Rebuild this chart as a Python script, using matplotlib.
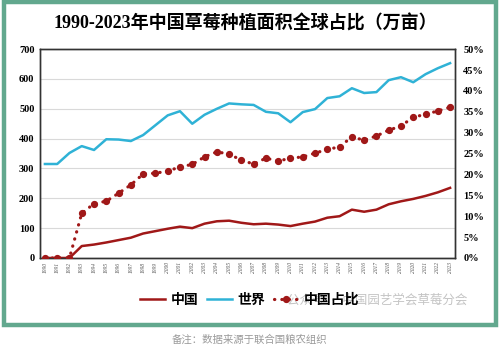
# 1990-2023 China strawberry planting area and its global share
import matplotlib.pyplot as plt
from matplotlib.patches import Rectangle
from matplotlib.lines import Line2D
from matplotlib.ticker import FuncFormatter

plt.rcParams['font.family'] = ['Liberation Serif', 'Noto Sans CJK SC', 'DejaVu Sans']

years = list(range(1990, 2024))
china = [0, 0, 0, 40, 45, 52, 60, 68, 82, 90, 98, 105, 100, 115, 123, 125, 118,
         113, 115, 112, 107, 115, 122, 135, 140, 162, 155, 162, 180, 190, 198,
         208, 220, 235]
world = [315, 315, 352, 375, 362, 398, 397, 392, 412, 445, 478, 492, 450, 480,
         500, 518, 515, 513, 490, 485, 455, 489, 499, 536, 542, 569, 553, 556,
         596, 606, 589, 616, 636, 653]
share = [0, 0, 0, 10.7, 13.0, 13.6, 15.5, 17.5, 20.1, 20.3, 20.8, 21.8, 22.4,
         24.2, 25.4, 24.9, 23.4, 22.5, 23.9, 23.2, 23.9, 24.2, 25.1, 26.0, 26.6,
         29.0, 28.2, 29.2, 30.6, 31.6, 33.7, 34.4, 35.2, 36.1]

red = '#a01818'
blue = '#2fb2d6'
dots = (0, (0.1, 2.2))

fig = plt.figure(figsize=(5, 3.51), dpi=100)

# teal frame
fig.patches.append(Rectangle((0.008, 0.075), 0.984, 0.918, transform=fig.transFigure,
                             fill=False, edgecolor='#62a88e', linewidth=3.2))

ax = fig.add_axes([0.08, 0.265, 0.83, 0.595])
ax.plot(years, world, color=blue, lw=1.8, zorder=3)
ax.plot(years, china, color=red, lw=1.8, zorder=3)
ax.set_xlim(1989.6, 2023.4)
ax.set_ylim(0, 700)
ax.set_yticks(range(0, 701, 100))
ax.grid(axis='y', color='#d9d9d9', lw=0.8)
ax.set_axisbelow(True)
ax.set_xticks(years)
ax.set_xticklabels([str(y) for y in years], rotation=90, fontsize=4,
                   color='#555555', style='italic')
ax.tick_params(axis='both', length=0, pad=3)
ax.tick_params(axis='y', labelsize=7.5, pad=4)
for lab in ax.get_yticklabels():
    lab.set_fontweight('bold')
for s in ax.spines.values():
    s.set_color('#333333')
    s.set_linewidth(1)

ax2 = ax.twinx()
ax2.plot(years, share, color=red, lw=2.3, linestyle=dots,
         dash_capstyle='round', marker='o', markersize=4.2, zorder=4)
ax2.set_ylim(0, 50)
ax2.set_yticks(range(0, 51, 5))
ax2.yaxis.set_major_formatter(FuncFormatter(lambda v, p: f'{int(v)}%'))
ax2.tick_params(axis='y', length=0, pad=6, labelsize=7.5)
for lab in ax2.get_yticklabels():
    lab.set_fontweight('bold')
for s in ax2.spines.values():
    s.set_color('#333333')
    s.set_linewidth(1)

fig.text(0.49, 0.932, '1990-2023年中国草莓种植面积全球占比（万亩）', ha='center',
         va='center', fontsize=13, fontweight='bold')

# watermark
fig.text(0.574, 0.145, '公众号 · 中国园艺学会草莓分会', ha='left', va='center',
         fontsize=9, color='#c4c4c4', family=['Noto Sans CJK SC'], zorder=1)

handles = [Line2D([], [], color=red, lw=1.8),
           Line2D([], [], color=blue, lw=1.8),
           Line2D([], [], color=red, lw=2.3, linestyle=dots,
                  dash_capstyle='round', marker='o', markersize=4.2)]
leg = fig.legend(handles, ['中国', '世界', '中国占比'], loc='center',
                 bbox_to_anchor=(0.5, 0.145), ncol=3, frameon=False,
                 prop={'family': ['Noto Sans CJK SC'], 'size': 10, 'weight': 'bold'},
                 handlelength=1.8, handletextpad=0.4, columnspacing=0.6)

fig.text(0.5, 0.032, '备注：数据来源于联合国粮农组织', ha='center', va='center',
         fontsize=7.5, color='#9a9a9a', family=['Noto Sans CJK SC'])

fig.savefig('out.png', dpi=100)
